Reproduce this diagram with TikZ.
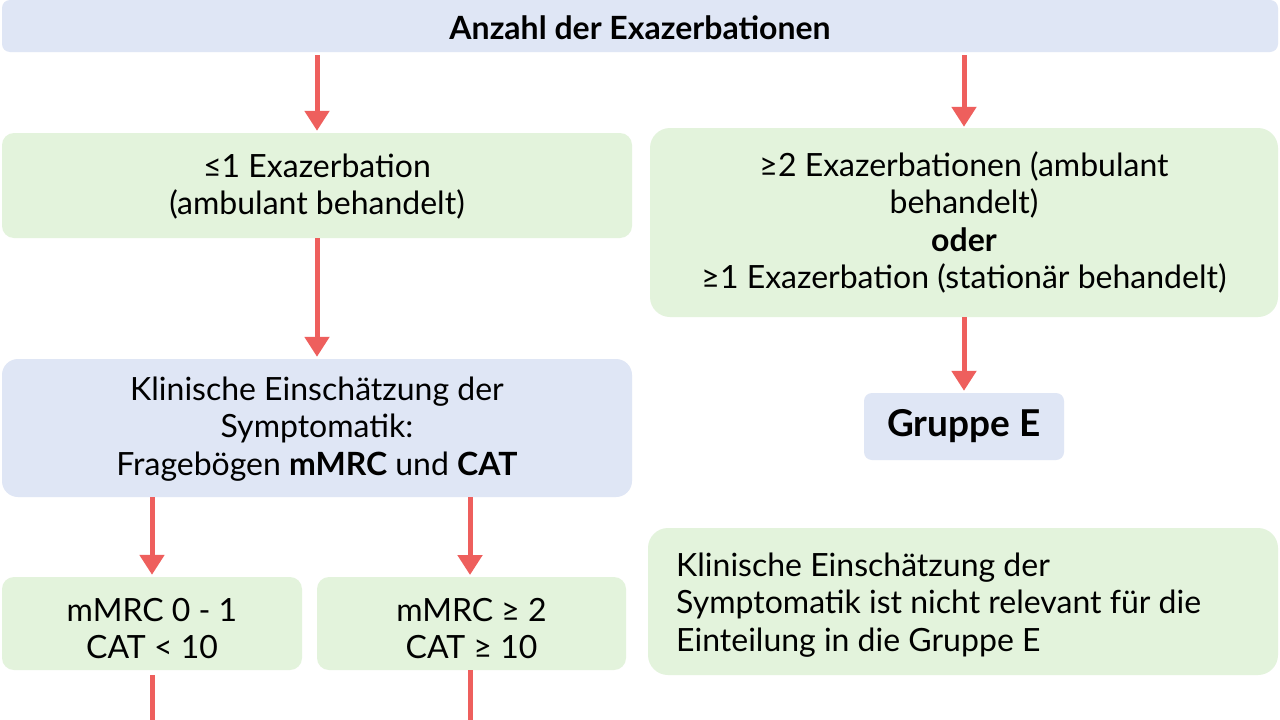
\documentclass[tikz,border=0pt]{standalone}
\usepackage{fontspec}
\setmainfont{Lato}
\usetikzlibrary{arrows.meta}
\definecolor{boxblue}{HTML}{DFE6F5}
\definecolor{boxgreen}{HTML}{E3F3DC}
\definecolor{arrred}{HTML}{EE5F5D}
\newcommand{\lowered}[2]{\raisebox{-#1pt}[\height][\depth]{\begin{tabular}{@{}c@{}}#2\end{tabular}}}
\tikzset{
  bx/.style={draw=none, rounded corners=12pt, inner sep=0pt, align=center,
    font=\fontsize{32}{37.5}\selectfont, text=black},
  bluebox/.style={bx, fill=boxblue},
  greenbox/.style={bx, fill=boxgreen},
  arr/.style={draw=arrred, line width=5pt, -{Triangle[length=20pt,width=24pt]}},
  ln/.style={draw=arrred, line width=5pt},
}
\begin{document}
\begin{tikzpicture}[x=1pt,y=-1pt]
\useasboundingbox[fill=white] (0,0) rectangle (1280,720);
\node[bluebox, rounded corners=8pt, minimum width=1276pt, minimum height=52pt] (top) at (640,26)
  {\lowered{6}{\bfseries Anzahl der Exazerbationen}};
\node[greenbox, minimum width=630pt, minimum height=105pt] (a) at (317,185.5)
  {\lowered{3}{≤1 Exazerbation\\(ambulant behandelt)}};
\node[greenbox, rounded corners=20pt, minimum width=628pt, minimum height=189pt] (b) at (964,222.5)
  {≥2 Exazerbationen (ambulant\\behandelt)\\\textbf{oder}\\≥1 Exazerbation (stationär behandelt)};
\node[bluebox, rounded corners=16pt, minimum width=630pt, minimum height=138pt] (c) at (317,428)
  {\lowered{2}{Klinische Einschätzung der\\Symptomatik:\\Fragebögen \textbf{mMRC} und \textbf{CAT}}};
\node[bluebox, rounded corners=8pt, minimum width=200pt, minimum height=67pt, font=\fontsize{37}{40}\selectfont\bfseries] (g) at (964,426.5)
  {\lowered{2}{Gruppe E}};
\node[greenbox, minimum width=300pt, minimum height=93pt] (d) at (152,623.5)
  {\lowered{9}{mMRC 0 - 1\\CAT < 10}};
\node[greenbox, minimum width=309pt, minimum height=93pt] (e) at (471.5,623.5)
  {\lowered{9}{mMRC ≥ 2\\CAT ≥ 10}};
\node[greenbox, rounded corners=20pt, minimum width=630pt, minimum height=147pt] (f) at (963,601.5) {};
\node[anchor=west, align=left, inner sep=0pt, font=\fontsize{32}{37.5}\selectfont] (ft) at (676,605)
  {Klinische Einschätzung der\\Symptomatik ist nicht relevant für die\\Einteilung in die Gruppe E};
\coordinate (dend) at (152,720);
\coordinate (eend) at (470,720);
\draw[arr, shorten <=3pt, shorten >=2pt] (a.north |- top.south) -- (a.north);
\draw[arr, shorten <=3pt, shorten >=1pt] (b.north |- top.south) -- (b.north);
\draw[arr, shorten >=2pt] (a.south) -- (c.north);
\draw[arr, shorten >=2pt] (b.south) -- (g.north);
\draw[arr, shorten >=2pt] (d.north |- c.south) -- (d.north);
\draw[arr, shorten >=2pt] (c.south -| 470,0) -- (470,577);
\draw[ln, shorten <=5pt] (d.south) -- (dend);
\draw[ln] (eend |- e.south) -- (eend);
\end{tikzpicture}
\end{document}
